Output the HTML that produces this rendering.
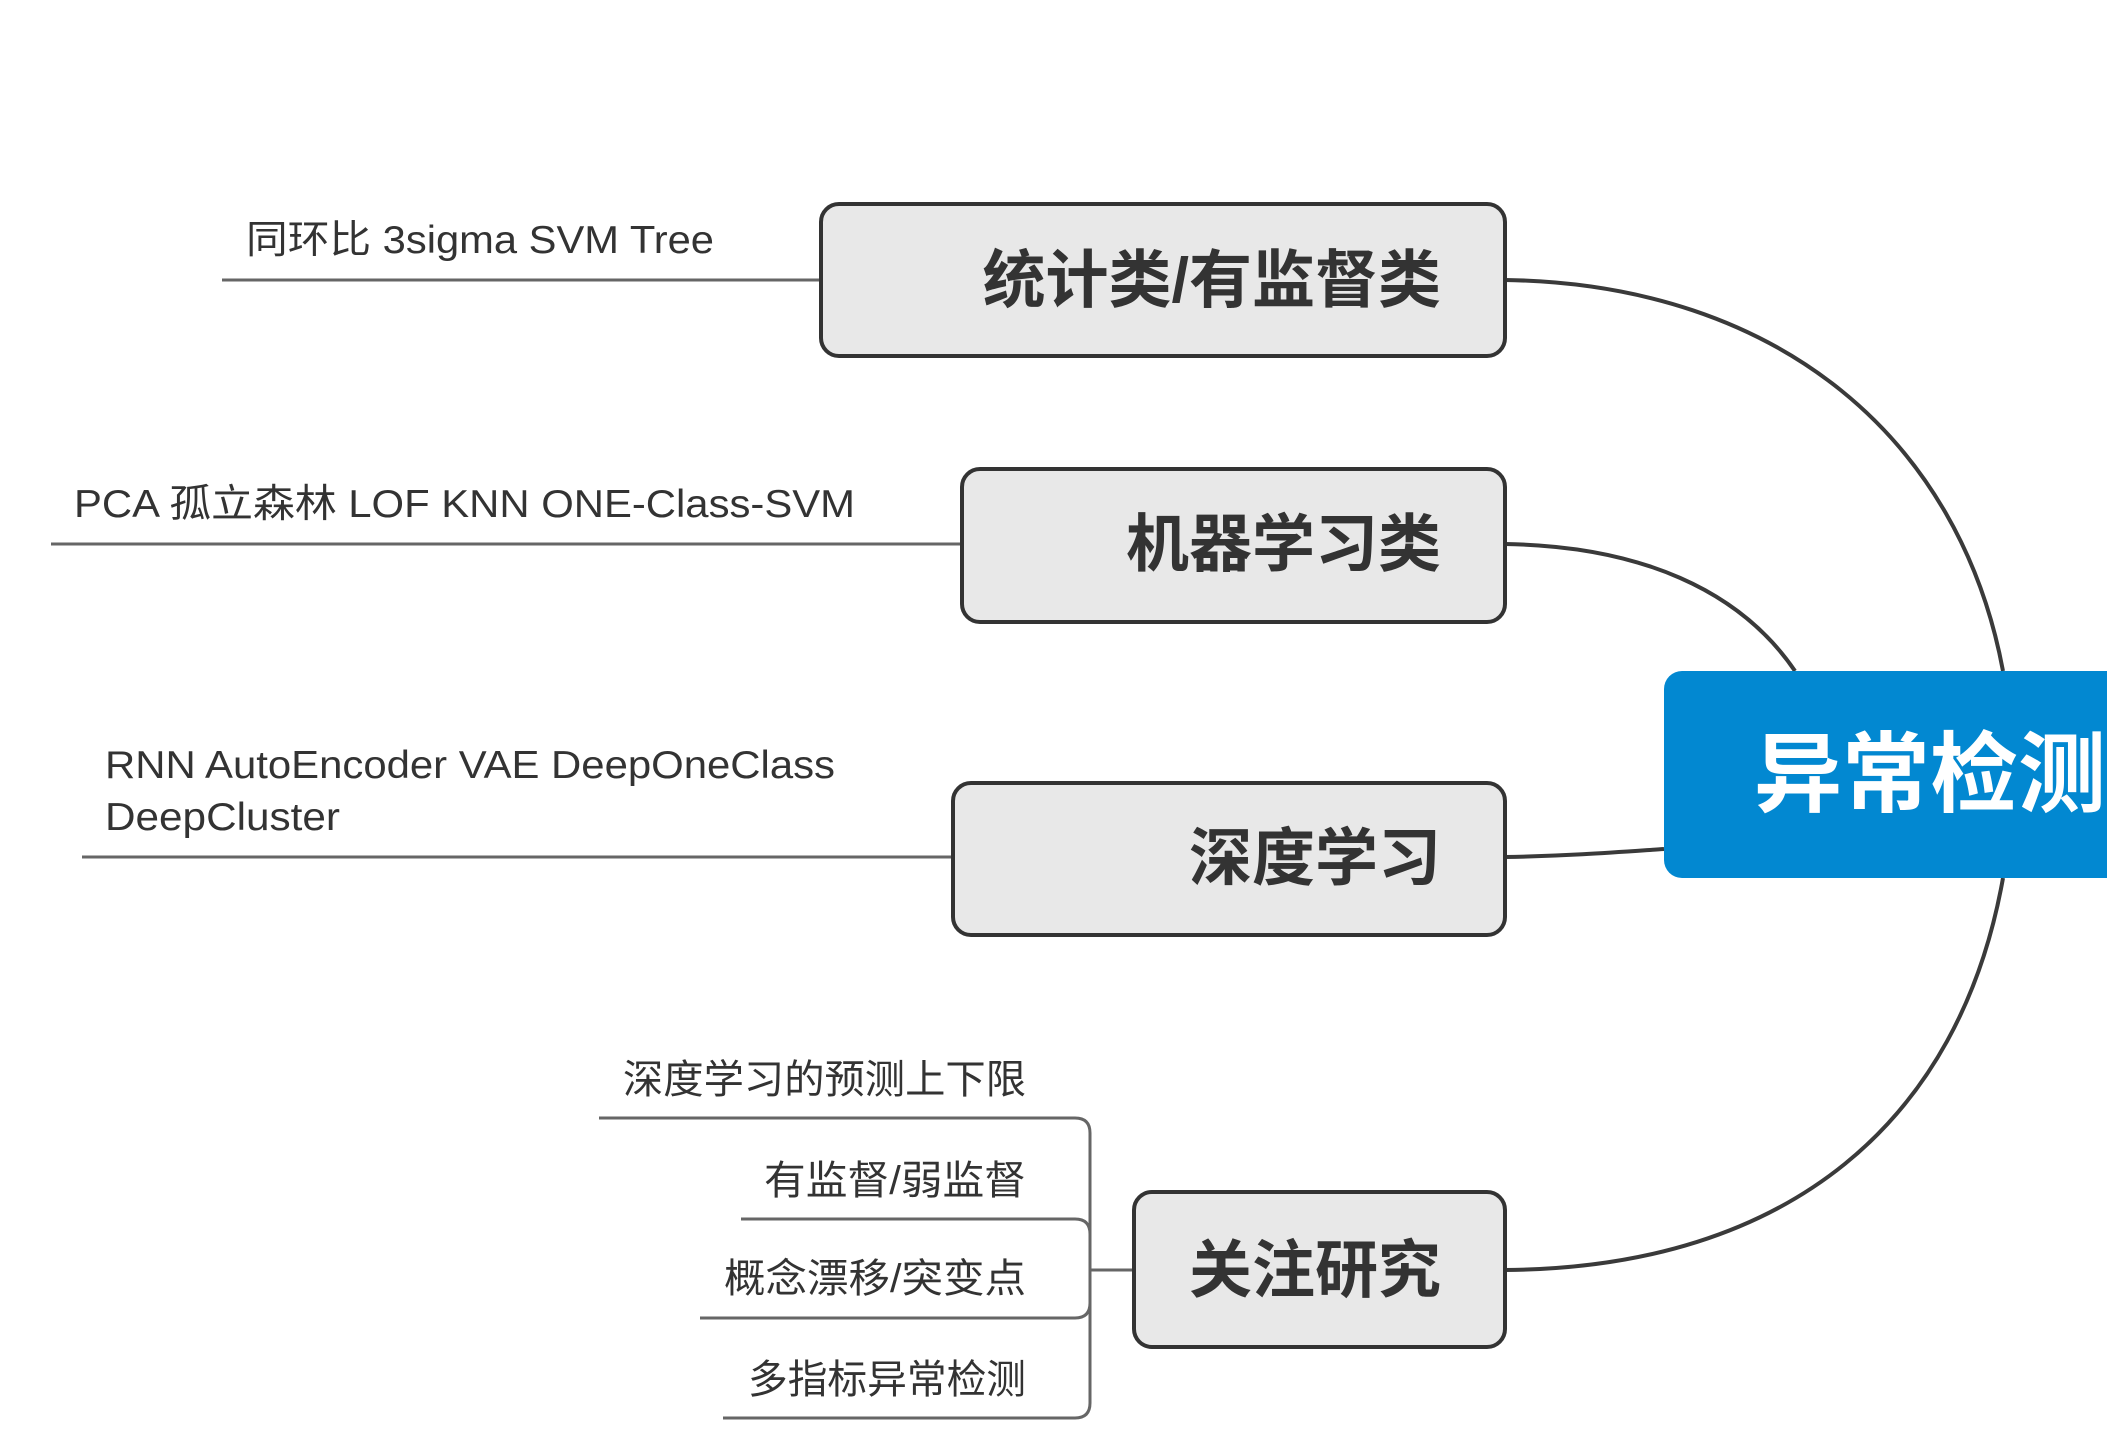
<!DOCTYPE html>
<html><head><meta charset="utf-8"><style>
html,body{margin:0;padding:0;background:#fff;}
svg{display:block;}
text{font-family:"Liberation Sans","Noto Sans CJK SC",sans-serif;}
</style></head><body>
<svg width="2107" height="1440" viewBox="0 0 2107 1440" xmlns="http://www.w3.org/2000/svg">
<g fill="none" stroke="#3a3a3a" stroke-width="4">
<path d="M1505 280 C1780 284 1960 440 2003 671"/>
<path d="M1505 544 C1640 546 1740 590 1795 671"/>
<path d="M1505 857 C1570 856 1620 852 1664 849"/>
<path d="M1505 1270 C1790 1268 1960 1120 2003 878"/>
</g>
<g fill="none" stroke="#666" stroke-width="3">
<line x1="222" y1="280" x2="821" y2="280"/>
<line x1="51" y1="544" x2="962" y2="544"/>
<line x1="82" y1="857" x2="953" y2="857"/>
<line x1="1090" y1="1270" x2="1134" y2="1270"/>
<path d="M599 1118 H1075 Q1090 1118 1090 1133 V1403 Q1090 1418 1075 1418 H723"/>
<path d="M741 1219 H1075 Q1090 1219 1090 1234"/>
<path d="M700 1318 H1075 Q1090 1318 1090 1303"/>
</g>
<g fill="#e8e8e8" stroke="#333" stroke-width="4">
<rect x="821" y="204" width="684" height="152" rx="18"/>
<rect x="962" y="469" width="543" height="153" rx="18"/>
<rect x="953" y="783" width="552" height="152" rx="18"/>
<rect x="1134" y="1192" width="371" height="155" rx="18"/>
</g>
<rect x="1664" y="671" width="480" height="207" rx="18" fill="#0288d1"/>
<g fill="#333" font-weight="bold" font-size="63" text-anchor="end">
<text x="1441" y="302">统计类/有监督类</text>
<text x="1441" y="566">机器学习类</text>
<text x="1441" y="880">深度学习</text>
<text x="1441" y="1292">关注研究</text>
</g>
<text x="1754" y="805" fill="#fff" font-weight="bold" font-size="88">异常检测方法</text>
<g fill="#333" font-size="39">
<text x="246" y="253" textLength="468" lengthAdjust="spacingAndGlyphs">同环比 3sigma SVM Tree</text>
<text x="74" y="517" textLength="781" lengthAdjust="spacingAndGlyphs">PCA 孤立森林 LOF KNN  ONE-Class-SVM</text>
<text x="105" y="778" textLength="730" lengthAdjust="spacingAndGlyphs">RNN AutoEncoder VAE DeepOneClass</text>
<text x="105" y="830" textLength="235" lengthAdjust="spacingAndGlyphs">DeepCluster</text>
</g>
<g fill="#333" font-size="40">
<text x="623" y="1093" textLength="403" lengthAdjust="spacingAndGlyphs">深度学习的预测上下限</text>
<text x="764" y="1194" textLength="262" lengthAdjust="spacingAndGlyphs">有监督/弱监督</text>
<text x="724" y="1292" textLength="302" lengthAdjust="spacingAndGlyphs">概念漂移/突变点</text>
<text x="748" y="1393" textLength="278" lengthAdjust="spacingAndGlyphs">多指标异常检测</text>
</g>
</svg>
</body></html>
